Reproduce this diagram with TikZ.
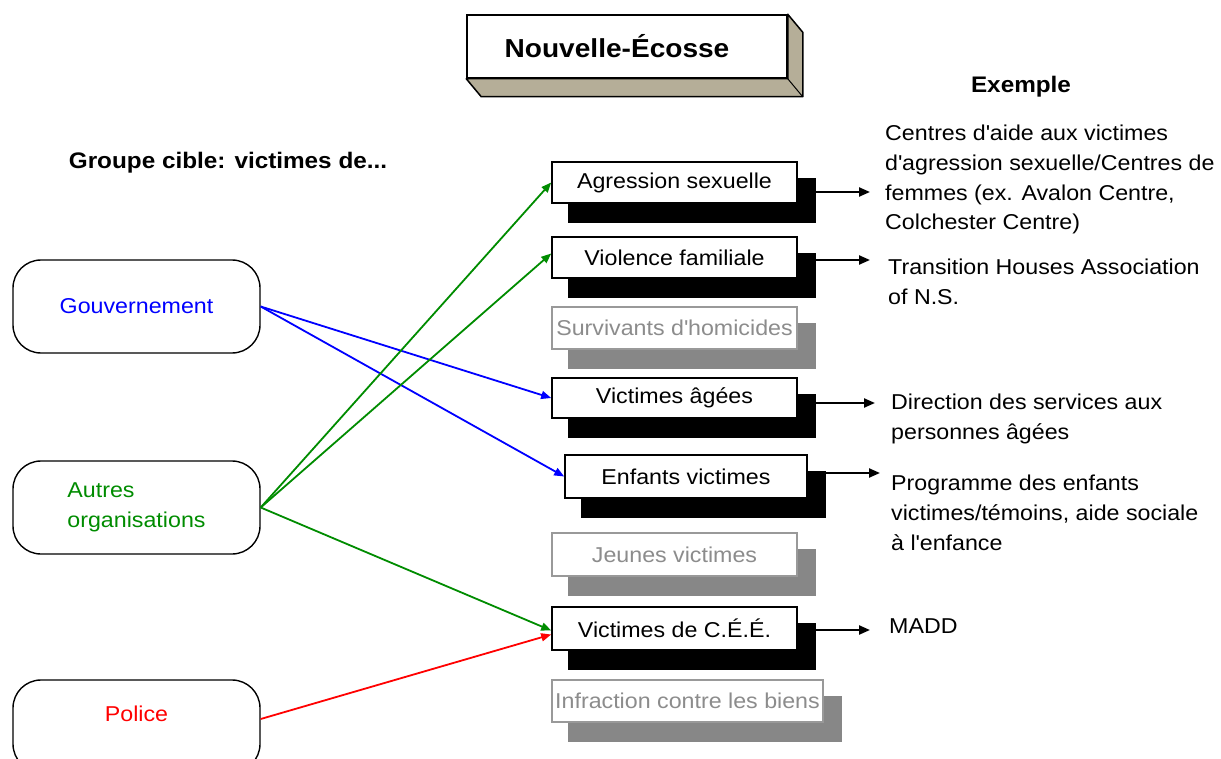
\documentclass[tikz,border=0pt]{standalone}
\usepackage{fontspec}
\setmainfont{Liberation Sans}[FakeStretch=1.08]
\usetikzlibrary{arrows.meta,calc}

\definecolor{titleside}{HTML}{B5AE98}
\definecolor{shadowgray}{HTML}{878787}
\definecolor{blueL}{HTML}{0000FF}
\definecolor{greenL}{HTML}{008C00}
\definecolor{redL}{HTML}{FF0000}

\tikzset{
  txt/.style={font=\fontsize{21.5}{29.7}\selectfont},
  headtxt/.style={font=\bfseries\fontsize{22.5}{27}\selectfont},
  frontbox/.style={draw=black, line width=1.6pt, fill=white, inner sep=0pt, txt},
  ghostbox/.style={draw=black!40, line width=1.4pt, fill=white, inner sep=0pt, text=black!45, txt},
  shadowbox/.style={inner sep=0pt, draw=none},
  orgbox/.style={draw=black, line width=1.4pt, rounded corners=28pt, minimum width=247pt,
                 minimum height=93pt, fill=white, txt},
  link/.style={line width=1.8pt, -{Triangle[length=10pt,width=8pt]}},
  outlink/.style={line width=2.2pt, -{Triangle[length=11pt,width=9pt]}},
  rtext/.style={txt, anchor=north west, inner sep=0pt, align=left},
}

% #1 name, #2 style, #3 shadow colour, #4-#7 corners of the front box, #8 text
\newcommand{\victbox}[8]{%
  \pgfmathsetmacro\vicW{#6-#4}%
  \pgfmathsetmacro\vicH{#7-#5}%
  \pgfmathsetmacro\shaW{#6-#4+3}%
  \pgfmathsetmacro\shaH{#7-#5+4}%
  \node[shadowbox, fill=#3, minimum width=\shaW pt, minimum height=\shaH pt]
    (#1-sh) at ({(#4+#6)/2+17.5},{(#5+#7)/2+18}) {};
  \node[#2, minimum width=\vicW pt, minimum height=\vicH pt]
    (#1) at ({(#4+#6)/2},{(#5+#7)/2}) {#8};
}

\begin{document}
\begin{tikzpicture}[x=1pt,y=-1pt]
\useasboundingbox (0,0) rectangle (1221,759);
\clip (0,0) rectangle (1221,759);
\fill[white] (0,0) rectangle (1221,759);

% title block with its raised edge
\node[draw, fill=white, line width=1.5pt, minimum width=320pt, minimum height=63pt,
      font=\bfseries\fontsize{26}{30}\selectfont] (title) at (627,46.5) {Nouvelle-Écosse\hspace*{20pt}};
\draw[fill=titleside, line width=1.5pt, line join=round]
  (title.south west) -- ++(15,18) -- ($(title.south east)+(15,18)$)
  -- ($(title.north east)+(15,18)$) -- (title.north east) -- (title.south east) -- cycle;
\draw[line width=1pt] (title.south east) -- ++(15,18);

% headings
\node[headtxt] (grp) at (228,163) {Groupe cible: victimes de...};
\node[headtxt] (ex) at (1021,87) {Exemple};

% organisations
\node[orgbox, text=blueL] (gouv) at (136.5,306.5) {Gouvernement};
\node[orgbox, text=greenL, align=left] (autres) at (136.5,507.5) {Autres\\organisations};
\node[orgbox, text=redL, minimum height=92pt, text height=15.5pt, text depth=24pt]
  (police) at (136.5,726) {Police};

% target groups
\victbox{agr}{frontbox}{black}{552}{162}{797}{203}{Agression sexuelle}
\victbox{vio}{frontbox}{black}{552}{237}{797}{278}{Violence familiale}
\victbox{hom}{ghostbox}{shadowgray}{552}{307}{797}{349}{Survivants d\textquotesingle homicides}
\victbox{age}{frontbox}{black}{552}{378}{797}{418}{Victimes âgées}
\victbox{enf}{frontbox}{black}{565}{455}{807}{498}{Enfants victimes}
\victbox{jeu}{ghostbox}{shadowgray}{552}{533}{797}{576}{Jeunes victimes}
\victbox{cee}{frontbox}{black}{552}{607}{797}{650}{Victimes de C.É.É.}
\victbox{inf}{ghostbox}{shadowgray}{552}{680}{823}{722}{Infraction contre les biens}

% links from organisations
\draw[link, blueL] (gouv.east) -- (age.west);
\draw[link, blueL] (gouv.east) -- (enf.west);
\draw[link, greenL] (autres.east) -- (agr.west);
\draw[link, greenL] (autres.east) -- ([yshift=4pt]vio.west);
\draw[link, greenL] (autres.east) -- ([yshift=-2pt]cee.west);
\draw[link, redL] ([yshift=7pt]police.east) -- ([yshift=-6pt]cee.west);

% examples
\node[rtext] (rA) at (885,125) {Centres d\textquotesingle aide aux victimes\\d\textquotesingle agression sexuelle/Centres de\\femmes (ex. Avalon Centre,\\Colchester Centre)};
\node[rtext] (rV) at (888,259) {Transition Houses Association\\of N.S.};
\node[rtext] (rG) at (891,394) {Direction des services aux\\personnes âgées};
\node[rtext] (rE) at (891,475) {Programme des enfants\\victimes/témoins, aide sociale\\à l\textquotesingle enfance};
\node[rtext] (rC) at (889,619) {MADD};

\coordinate (eA) at (870,192);
\coordinate (eV) at (870,260);
\coordinate (eG) at (875,403);
\coordinate (eE) at (880,473);
\coordinate (eC) at (870,630);
\draw[outlink] (agr-sh.east |- eA) -- (eA);
\draw[outlink] (vio-sh.east |- eV) -- (eV);
\draw[outlink] (age-sh.east |- eG) -- (eG);
\draw[outlink] (enf-sh.east |- eE) -- (eE);
\draw[outlink] (cee-sh.east |- eC) -- (eC);
\end{tikzpicture}
\end{document}
